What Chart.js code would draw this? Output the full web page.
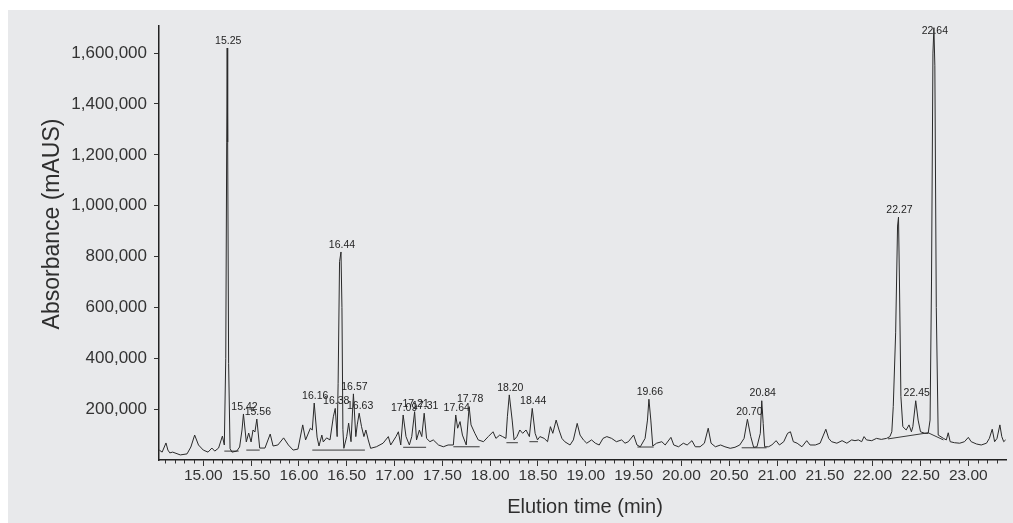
<!DOCTYPE html>
<html><head><meta charset="utf-8">
<script src="https://cdn.jsdelivr.net/npm/chart.js@4.4.0/dist/chart.umd.min.js"></script>
<style>html,body{margin:0;padding:0;background:#fff;}canvas{display:block;}</style>
</head><body>
<canvas id="c" width="1013" height="523"></canvas>
<script>
// Elution time (min)
const traceTime = [
14.54,14.57,14.61,14.63,14.65,14.68,14.76,14.83,14.87,14.91,14.95,15.00,15.05,15.09,15.12,15.16,15.20,15.22,15.235,15.245,15.25,15.255,15.265,15.28,
15.30,15.35,15.38,15.405,15.42,15.45,15.475,15.50,15.52,15.54,15.56,15.59,15.645,15.70,15.73,15.78,15.84,15.89,15.94,15.99,
16.04,16.07,16.12,16.14,16.16,16.19,16.21,16.24,16.255,16.29,16.325,16.36,16.38,16.40,16.41,16.425,16.44,16.45,16.46,16.47,16.50,16.52,16.545,16.57,16.595,16.61,16.63,16.655,16.68,16.70,16.725,16.75,16.81,16.88,16.935,16.96,
17.015,17.04,17.065,17.09,17.12,17.155,17.18,17.21,17.23,17.26,17.285,17.31,17.335,17.37,17.405,17.46,17.51,17.56,17.615,17.64,17.66,17.685,17.71,17.75,17.78,17.80,17.84,17.875,17.93,17.98,
18.03,18.06,18.10,18.13,18.165,18.18,18.20,18.23,18.25,18.28,18.31,18.34,18.375,18.41,18.44,18.47,18.495,18.52,18.565,18.60,18.63,18.655,18.69,18.72,18.75,18.78,18.835,18.87,18.91,18.94,18.975,
19.01,19.06,19.10,19.14,19.18,19.22,19.27,19.32,19.375,19.41,19.445,19.50,19.535,19.57,19.62,19.645,19.66,19.68,19.70,19.74,19.795,19.83,19.89,19.92,19.97,
20.02,20.06,20.11,20.145,20.195,20.24,20.28,20.31,20.355,20.41,20.455,20.51,20.56,20.61,20.655,20.69,20.725,20.755,20.79,20.825,20.84,20.855,20.87,20.91,20.945,20.99,
21.025,21.07,21.11,21.14,21.17,21.21,21.26,21.31,21.345,21.40,21.45,21.485,21.51,21.54,21.57,21.625,21.68,21.73,21.78,21.815,21.85,21.885,21.91,21.935,21.99,
22.04,22.09,22.145,22.18,22.20,22.215,22.24,22.26,22.27,22.28,22.295,22.315,22.35,22.38,22.405,22.42,22.45,22.475,22.50,22.545,22.58,22.60,22.615,22.63,22.64,22.65,22.665,22.685,22.74,22.77,22.79,22.81,22.855,22.91,22.96,
23.00,23.03,23.085,23.135,23.19,23.22,23.25,23.275,23.30,23.33,23.35,23.37,23.39
];
// Absorbance (thousands of mAUS)
const traceAbsK = [
39,31,67,39,28,31,20,24,51,98,59,39,31,47,35,47,94,59,400,1250,1620,1250,380,45,
31,35,51,118,181,71,106,71,118,110,161,47,47,102,55,59,87,59,39,43,
138,79,125,118,224,90,55,98,71,87,79,170,203,92,300,780,818,600,120,46,92,145,72,260,92,138,184,131,92,118,79,46,52,66,92,59,
92,111,59,177,92,59,92,190,79,118,92,184,85,72,79,59,52,59,59,177,125,151,98,59,210,138,105,79,72,92,
111,85,98,92,85,170,256,157,79,92,118,105,118,92,203,105,79,92,85,72,131,105,157,118,85,72,59,79,144,98,79,
66,79,66,59,85,92,85,72,79,66,72,98,59,52,85,157,239,157,55,66,72,59,89,59,52,
66,59,76,52,52,66,125,66,52,59,52,46,50,59,85,160,92,50,52,105,233,144,52,52,59,76,
59,72,105,111,72,66,52,76,59,59,66,98,121,85,72,66,76,66,79,76,79,72,92,79,76,
85,81,85,92,111,210,500,920,955,700,250,131,118,138,111,131,233,157,111,105,105,157,700,1600,1700,1550,600,98,85,79,107,72,68,66,72,
89,72,63,59,66,85,121,72,85,138,92,72,79
];
// Integration baselines (null = gap)
const baselineTime = [15.22,15.37,null,15.45,15.59,null,16.14,16.69,null,17.09,17.33,null,17.615,17.89,null,18.17,18.29,null,18.41,18.50,null,19.54,19.71,null,20.63,20.89,null,22.16,22.58,22.74];
const baselineAbsK = [35,35,null,39,39,null,39,39,null,50,50,null,52,52,null,68,68,null,72,72,null,51,51,null,48,48,null,83,107,79];
// Peak annotations
const peakLabels = ['15.25','15.42','15.56','16.16','16.38','16.44','16.57','16.63','17.09','17.21','17.31','17.64','17.78','18.20','18.44','19.66','20.70','20.84','22.27','22.45','22.64'];
const peakTimes  = [15.25,15.42,15.56,16.16,16.38,16.44,16.57,16.63,17.09,17.21,17.31,17.64,17.78,18.20,18.44,19.66,20.70,20.84,22.27,22.45,22.64];
const peakAbsK   = [1620,181,161,224,203,818,260,184,177,190,184,177,210,256,203,239,160,233,955,233,1700];
// Axis ticks
const xTickValues = [15.0,15.5,16.0,16.5,17.0,17.5,18.0,18.5,19.0,19.5,20.0,20.5,21.0,21.5,22.0,22.5,23.0];
const xTickLabels = ['15.00','15.50','16.00','16.50','17.00','17.50','18.00','18.50','19.00','19.50','20.00','20.50','21.00','21.50','22.00','22.50','23.00'];
const yTickValues = [200000,400000,600000,800000,1000000,1200000,1400000,1600000];
const yTickLabels = ['200,000','400,000','600,000','800,000','1,000,000','1,200,000','1,400,000','1,600,000'];

const FONT = "'Liberation Sans', Arial, sans-serif";

const decor = {
  id: 'decor',
  beforeDraw(chart) {
    const c = chart.ctx;
    c.save();
    c.fillStyle = '#ffffff';
    c.fillRect(0, 0, chart.width, chart.height);
    c.fillStyle = '#e8e9eb';
    c.fillRect(8, 10, chart.width - 8, chart.height - 10);
    c.restore();
  },
  afterDraw(chart) {
    const c = chart.ctx, xs = chart.scales.x, ys = chart.scales.y, a = chart.chartArea;
    c.save();
    // minor ticks every 0.1 min
    c.strokeStyle = '#333';
    c.lineWidth = 1;
    for (let k = 146; k <= 234; k++) {
      if (k % 5 === 0) continue;
      const px = Math.round(xs.getPixelForValue(k / 10)) + 0.5;
      if (px < a.left || px > a.right + 1) continue;
      c.beginPath();
      c.moveTo(px, a.bottom);
      c.lineTo(px, a.bottom + 3.5);
      c.stroke();
    }
    // peak labels
    c.fillStyle = '#1e1e1e';
    c.font = '10.5px ' + FONT;
    c.textAlign = 'center';
    c.textBaseline = 'bottom';
    peakLabels.forEach((lab, i) => {
      const px = xs.getPixelForValue(peakTimes[i]) + 1;
      let py = ys.getPixelForValue(peakAbsK[i] * 1000) - 2;
      if (py < a.top + 10) py = a.top + 10;
      c.fillText(lab, px, py);
    });
    // axis titles
    c.fillStyle = '#2e2e2e';
    c.textAlign = 'center';
    c.textBaseline = 'middle';
    c.font = '20px ' + FONT;
    c.fillText('Elution time (min)', 585, 507);
    c.translate(53, 224);
    c.rotate(-Math.PI / 2);
    c.font = '23px ' + FONT;
    c.fillText('Absorbance (mAUS)', 0, 0);
    c.restore();
  }
};

new Chart(document.getElementById('c'), {
  type: 'line',
  data: {
    datasets: [
      {
        data: traceTime.map((t, i) => ({ x: t, y: traceAbsK[i] * 1000 })),
        borderColor: '#2a2a2a', borderWidth: 1, pointRadius: 0, tension: 0, fill: false
      },
      {
        data: baselineTime.map((t, i) => ({ x: t, y: baselineAbsK[i] === null ? null : baselineAbsK[i] * 1000 })),
        borderColor: '#3a3a3a', borderWidth: 1, pointRadius: 0, tension: 0, fill: false, spanGaps: false
      }
    ]
  },
  options: {
    responsive: false,
    animation: false,
    layout: { padding: { left: 8, top: 26, right: 7, bottom: 0 } },
    plugins: { legend: { display: false }, tooltip: { enabled: false } },
    scales: {
      x: {
        type: 'linear', min: 14.537, max: 23.394,
        afterFit(s) { s.height = 63; },
        afterBuildTicks(s) { s.ticks = xTickValues.map(v => ({ value: v })); },
        ticks: {
          callback: (v, i) => xTickLabels[i],
          font: { family: FONT, size: 15.5 }, color: '#333',
          padding: 0, maxRotation: 0, autoSkip: false
        },
        grid: { drawOnChartArea: false, drawTicks: true, tickLength: 6, color: '#333', tickWidth: 1 },
        border: { display: true, color: '#222', width: 1.5 }
      },
      y: {
        type: 'linear', min: 0, max: 1706600,
        afterFit(s) { s.width = 151; },
        afterBuildTicks(s) { s.ticks = yTickValues.map(v => ({ value: v })); },
        ticks: {
          callback: (v, i) => yTickLabels[i],
          font: { family: FONT, size: 17 }, color: '#333',
          padding: 7, autoSkip: false
        },
        grid: { drawOnChartArea: false, drawTicks: true, tickLength: 5, color: '#333', tickWidth: 1 },
        border: { display: true, color: '#222', width: 1.5 }
      }
    }
  },
  plugins: [decor]
});
</script>
</body></html>
